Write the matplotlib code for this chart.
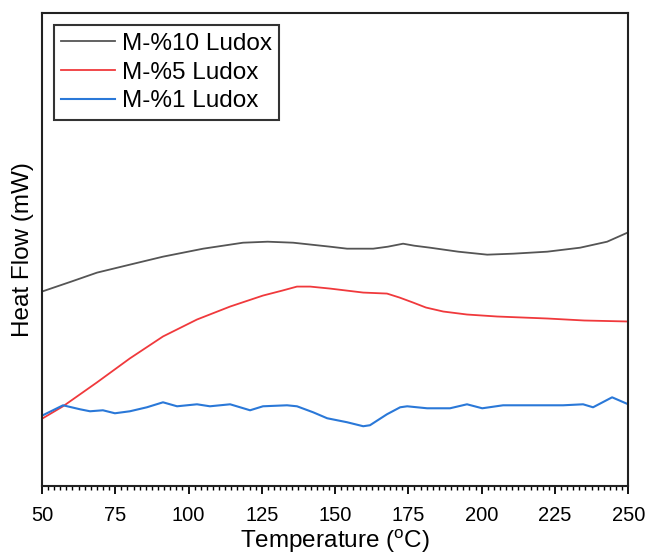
import numpy as np
import matplotlib
matplotlib.use("Agg")
import matplotlib.pyplot as plt
from matplotlib.ticker import MultipleLocator, AutoMinorLocator

plt.rcParams['font.family'] = ['Liberation Sans', 'DejaVu Sans']

# M-%10 Ludox (arbitrary heat-flow units)
T_10 = [50, 60, 68.8, 80, 91.3, 105, 118.6, 127, 135.7, 142, 148.3, 154.1,
        163, 168, 173.2, 177, 182.4, 192, 201.9, 210.8, 222.4, 233.6,
        242.8, 249.7, 250]
hf_10 = [195, 205, 214, 222, 230, 238, 244, 245, 244, 242, 240, 238,
         238, 240, 243, 241, 239, 235, 232, 233, 235, 239,
         245, 254, 255]

# M-%5 Ludox
T_5 = [50.3, 57.2, 68.8, 80, 91.3, 102.9, 114.2, 125.4, 132, 137, 141.5,
       148.3, 159.6, 167.7, 172, 176.6, 181, 186.9, 195, 205.3, 222.4,
       235, 250]
hf_5 = [68, 80, 104, 128, 150, 167, 180, 191, 196, 200, 200,
        198, 194, 193, 189, 184, 179, 175, 172, 170, 168,
        166, 165]

# M-%1 Ludox
T_1 = [50.3, 57.2, 63, 66.4, 70.8, 74.9, 80, 85.8, 91.3, 96.1, 102.9,
       107.3, 114.2, 121, 125.4, 133.6, 137, 142.5, 147.3, 154.1, 159.6,
       161.9, 167.7, 172.2, 174.6, 181.4, 189.2, 195, 200.2, 207.3, 216.6,
       227.8, 234.6, 238, 244.5, 250]
hf_1 = [71, 81, 77, 75, 76, 73, 75, 79, 84, 80, 82,
        80, 82, 76, 80, 81, 80, 74, 68, 64, 60,
        61, 72, 79, 80, 78, 78, 82, 78, 81, 81,
        81, 82, 79, 89, 82]

fig = plt.figure(figsize=(6.45, 5.53), dpi=100)
ax = fig.add_axes([0.065, 0.121, 0.909, 0.855])

ax.plot(T_10, hf_10, color='#555555', lw=1.3, label='M-%10 Ludox')
ax.plot(T_5, hf_5, color='#f0393c', lw=1.3, label='M-%5 Ludox')
ax.plot(T_1, hf_1, color='#2a78d8', lw=1.5, label='M-%1 Ludox')

ax.set_xlim(50, 250)
ax.set_ylim(0, 474)
ax.xaxis.set_major_locator(MultipleLocator(25))
ax.xaxis.set_minor_locator(AutoMinorLocator(12))
ax.set_yticks([])
ax.tick_params(axis='x', which='major', length=6, width=1.3, labelsize=14.5, pad=8)
ax.tick_params(axis='x', which='minor', length=3, width=1.0)
for s in ax.spines.values():
    s.set_linewidth(1.5)
    s.set_color('#222222')

ax.set_xlabel('Temperature ($\\mathregular{^{o}}$C)', fontsize=17.5, labelpad=2)
ax.set_ylabel('Heat Flow (mW)', fontsize=17.5, labelpad=6)

leg = ax.legend(loc='upper left', fontsize=17.5, frameon=True, fancybox=False,
                edgecolor='black', handlelength=2.2, handletextpad=0.3,
                borderpad=0.3, labelspacing=0.28, borderaxespad=0.5)
leg.get_frame().set_linewidth(1.5)

fig.savefig('out.png', dpi=100)
